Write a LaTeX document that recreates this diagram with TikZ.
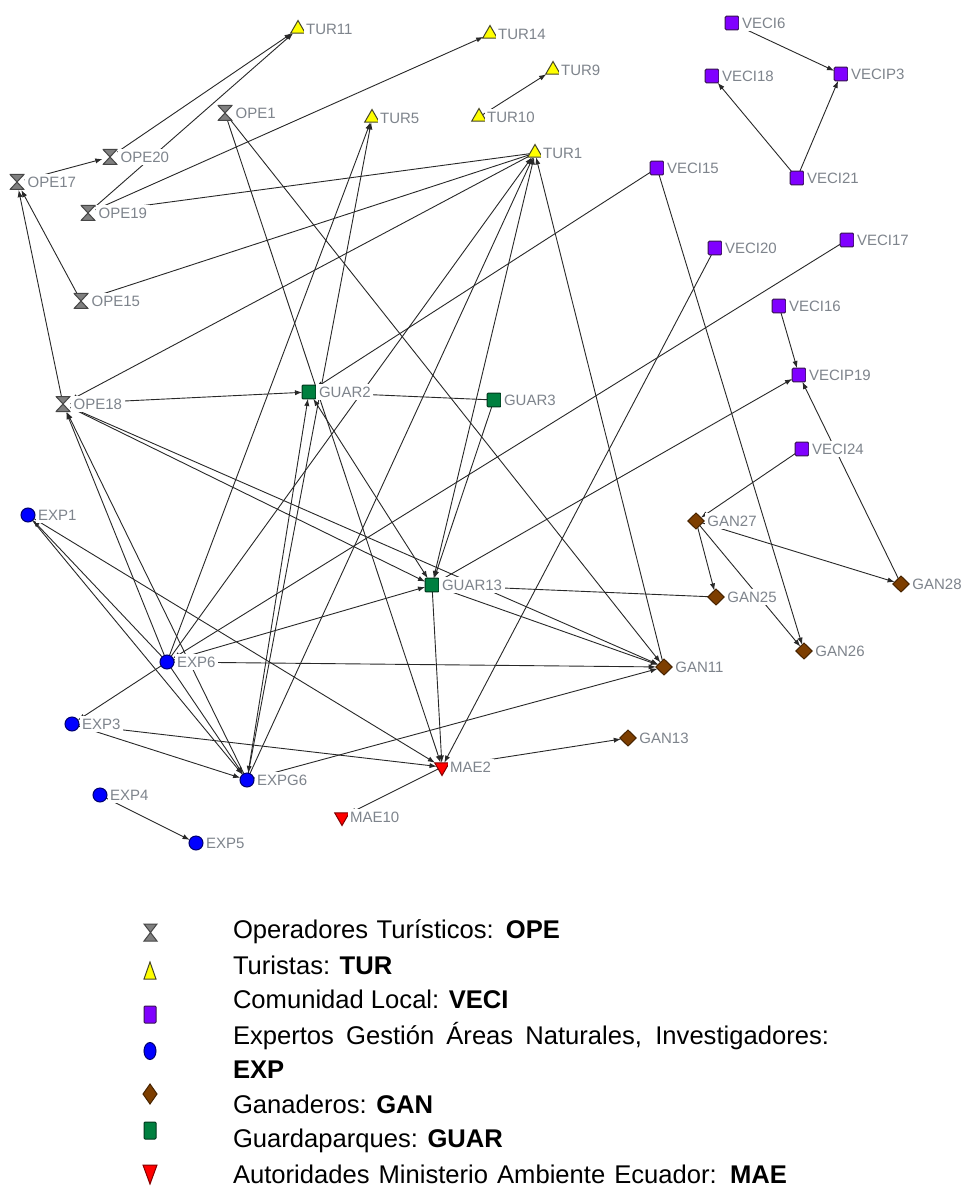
\documentclass[tikz,border=0pt]{standalone}
\usepackage{fontspec}
\setmainfont{Liberation Sans}
\usetikzlibrary{shapes.geometric,arrows.meta}
\pgfdeclarelayer{edges}
\pgfsetlayers{edges,main}

\definecolor{opefill}{RGB}{128,128,128}
\definecolor{opeline}{RGB}{70,70,70}
\definecolor{turfill}{RGB}{255,255,0}
\definecolor{turline}{RGB}{70,70,40}
\definecolor{vecifill}{RGB}{128,0,255}
\definecolor{veciline}{RGB}{55,20,80}
\definecolor{expfill}{RGB}{0,0,255}
\definecolor{expline}{RGB}{0,0,110}
\definecolor{ganfill}{RGB}{125,62,0}
\definecolor{ganline}{RGB}{70,35,0}
\definecolor{guarfill}{RGB}{0,128,64}
\definecolor{guarline}{RGB}{0,55,28}
\definecolor{maefill}{RGB}{255,0,0}
\definecolor{maeline}{RGB}{130,0,0}
\definecolor{labelgray}{RGB}{126,132,140}
\definecolor{edgecol}{RGB}{40,40,40}

\begin{document}
\begin{tikzpicture}[x=0.5pt,y=-0.5pt,
  every node/.style={inner sep=0pt,outer sep=0pt},
  every label/.style={font=\fontsize{7.5pt}{8pt}\selectfont,text=labelgray,fill=white,inner sep=1.3pt},
  label distance=0.3pt,
  ope/.style={rectangle,minimum width=7.5pt,minimum height=8pt,
    path picture={\filldraw[fill=opefill,draw=opeline,line width=0.5pt]
      ([shift={(0.25pt,-0.25pt)}]path picture bounding box.north west) --
      ([shift={(-0.25pt,-0.25pt)}]path picture bounding box.north east) --
      ([shift={(0.25pt,0.25pt)}]path picture bounding box.south west) --
      ([shift={(-0.25pt,0.25pt)}]path picture bounding box.south east) -- cycle;}},
  tur/.style={regular polygon,regular polygon sides=3,minimum size=8.5pt,
    fill=turfill,draw=turline,line width=0.5pt},
  mae/.style={regular polygon,regular polygon sides=3,regular polygon rotate=180,
    minimum size=8.5pt,fill=maefill,draw=maeline,line width=0.5pt},
  veci/.style={rectangle,minimum size=6.8pt,rounded corners=0.6pt,
    fill=vecifill,draw=veciline,line width=0.5pt},
  guar/.style={rectangle,minimum size=6.8pt,rounded corners=0.4pt,
    fill=guarfill,draw=guarline,line width=0.5pt},
  expn/.style={circle,minimum size=7pt,fill=expfill,draw=expline,line width=0.5pt},
  gan/.style={diamond,minimum width=8.2pt,minimum height=8pt,
    fill=ganfill,draw=ganline,line width=0.5pt},
  edge/.style={draw=edgecol,line width=0.45pt,-{Latex[length=3.6pt,width=2.6pt]}},
  biedge/.style={draw=edgecol,line width=0.45pt,
    {Latex[length=3.6pt,width=2.6pt]}-{Latex[length=3.6pt,width=2.6pt]}},
  legtext/.style={anchor=base west,font=\fontsize{12.8pt}{14pt}\selectfont,text=black},
  legsym/.style={line width=0.5pt}
]
\useasboundingbox (0,0) rectangle (960,1187);

% ---- actors ----
% tour operators
\node[ope,label=right:OPE1]  (OPE1)  at (225,113) {};
\node[ope,label=right:OPE20] (OPE20) at (110,157) {};
\node[ope,label=right:OPE17] (OPE17) at (17,182) {};
\node[ope,label=right:OPE19] (OPE19) at (88,213) {};
\node[ope,label=right:OPE15] (OPE15) at (81,301) {};
\node[ope,label=right:OPE18] (OPE18) at (63,404) {};
% tourists
\node[tur,label=right:TUR11] (TUR11) at (298,29) {};
\node[tur,label=right:TUR14] (TUR14) at (490,34) {};
\node[tur,label=right:TUR9]  (TUR9)  at (553,70) {};
\node[tur,label=right:TUR5]  (TUR5)  at (372,118) {};
\node[tur,label=right:TUR10] (TUR10) at (479,117) {};
\node[tur,label=right:TUR1]  (TUR1)  at (535,153) {};
% local community
\node[veci,label=right:VECI6]   (VECI6)   at (732,23) {};
\node[veci,label=right:VECIP3]  (VECIP3)  at (841,74) {};
\node[veci,label=right:VECI18]  (VECI18)  at (712,76) {};
\node[veci,label=right:VECI15]  (VECI15)  at (657,168) {};
\node[veci,label=right:VECI21]  (VECI21)  at (797,178) {};
\node[veci,label=right:VECI20]  (VECI20)  at (715,248) {};
\node[veci,label=right:VECI17]  (VECI17)  at (847,240) {};
\node[veci,label=right:VECI16]  (VECI16)  at (779,306) {};
\node[veci,label=right:VECIP19] (VECIP19) at (799,375) {};
\node[veci,label=right:VECI24]  (VECI24)  at (802,449) {};
% park rangers
\node[guar,label=right:GUAR2]  (GUAR2)  at (309,392) {};
\node[guar,label=right:GUAR3]  (GUAR3)  at (494,400) {};
\node[guar,label=right:GUAR13] (GUAR13) at (432,585) {};
% experts
\node[expn,label=right:EXP1]  (EXP1)  at (28,515) {};
\node[expn,label=right:EXP6]  (EXP6)  at (167,662) {};
\node[expn,label=right:EXP3]  (EXP3)  at (72,724) {};
\node[expn,label=right:EXPG6] (EXPG6) at (247,780) {};
\node[expn,label=right:EXP4]  (EXP4)  at (100,795) {};
\node[expn,label=right:EXP5]  (EXP5)  at (196,843) {};
% cattle ranchers
\node[gan,label=right:GAN27] (GAN27) at (696,521) {};
\node[gan,label=right:GAN25] (GAN25) at (716,597) {};
\node[gan,label=right:GAN28] (GAN28) at (901,584) {};
\node[gan,label=right:GAN26] (GAN26) at (804,651) {};
\node[gan,label=right:GAN11] (GAN11) at (664,667) {};
\node[gan,label=right:GAN13] (GAN13) at (628,738) {};
% environment ministry
\node[mae,label=right:MAE2]  (MAE2)  at (442,767) {};
\node[mae,label=right:MAE10] (MAE10) at (342,817) {};

% ---- ties ----
\begin{pgfonlayer}{edges}
\fill[white] (0,0) rectangle (960,1187);
\foreach \a/\b in {
  OPE20/TUR11, OPE19/TUR11, OPE17/OPE20, OPE19/TUR14,
  TUR1/OPE19, TUR1/OPE15, TUR1/OPE18,
  OPE15/OPE17, OPE18/OPE17, OPE18/GUAR2, OPE18/GUAR13, OPE18/GAN11,
  EXP6/OPE18, EXPG6/OPE18, OPE1/MAE2, OPE1/GAN11,
  EXP6/TUR1, EXPG6/TUR1, GAN11/TUR1, EXP6/TUR5, EXPG6/TUR5,
  EXP6/EXPG6, EXP3/EXPG6, EXP1/EXPG6, EXP6/EXP1, EXP1/MAE2,
  GUAR3/GUAR2, GUAR3/GUAR13, GUAR13/MAE2, GUAR13/GAN11, GAN25/GUAR13,
  GUAR13/VECIP19, EXP6/GUAR13, EXP6/GAN11, EXP6/EXP3, VECI17/EXP6,
  EXP3/MAE2, EXPG6/GAN11, EXP4/EXP5, VECI20/MAE2, MAE2/GAN13, MAE2/MAE10,
  VECI15/GUAR2, VECI15/GAN26, VECI16/VECIP19, GAN28/VECIP19, VECI24/GAN27,
  GAN27/GAN25, GAN27/GAN26, GAN27/GAN28,
  VECI6/VECIP3, VECI21/VECIP3, VECI21/VECI18, TUR10/TUR9}
  \draw[edge] (\a) -- (\b);
\foreach \a/\b in {GUAR13/TUR1, EXPG6/GUAR2, GUAR2/GUAR13}
  \draw[biedge] (\a) -- (\b);
\end{pgfonlayer}

% ---- legend ----
\filldraw[legsym,fill=opefill,draw=opeline] (144,924) -- (157,924) -- (144,941) -- (157,941) -- cycle;
\filldraw[legsym,fill=turfill,draw=turline] (144,979) -- (156,979) -- (150,962) -- cycle;
\filldraw[legsym,fill=vecifill,draw=veciline,rounded corners=0.5pt] (144,1006) rectangle (156,1023);
\filldraw[legsym,fill=expfill,draw=expline] (150,1051) ellipse [x radius=6,y radius=8.5];
\filldraw[legsym,fill=ganfill,draw=ganline] (150,1084) -- (157,1094) -- (150,1104) -- (143,1094) -- cycle;
\filldraw[legsym,fill=guarfill,draw=guarline,rounded corners=0.5pt] (144,1122) rectangle (156,1139);
\filldraw[legsym,fill=maefill,draw=maeline] (143,1165) -- (157,1165) -- (150,1184) -- cycle;

\node[legtext] (lopen) at (233,938) {\makebox[163.5pt][s]{Operadores Turísticos: \textbf{OPE}}};
\node[legtext] (ltur)  at (233,974) {Turistas: \textbf{TUR}};
\node[legtext] (lveci) at (233,1008) {Comunidad Local: \textbf{VECI}};
\node[legtext] (lexpa) at (233,1044) {\makebox[298pt][s]{Expertos Gestión Áreas Naturales, Investigadores:}};
\node[legtext] (lexpb) at (233,1078) {\textbf{EXP}};
\node[legtext] (lgan)  at (233,1113) {Ganaderos: \textbf{GAN}};
\node[legtext] (lguar) at (233,1147) {Guardaparques: \textbf{GUAR}};
\node[legtext] (lmae)  at (233,1183) {\makebox[277pt][s]{Autoridades Ministerio Ambiente Ecuador: \textbf{MAE}}};
\end{tikzpicture}
\end{document}
